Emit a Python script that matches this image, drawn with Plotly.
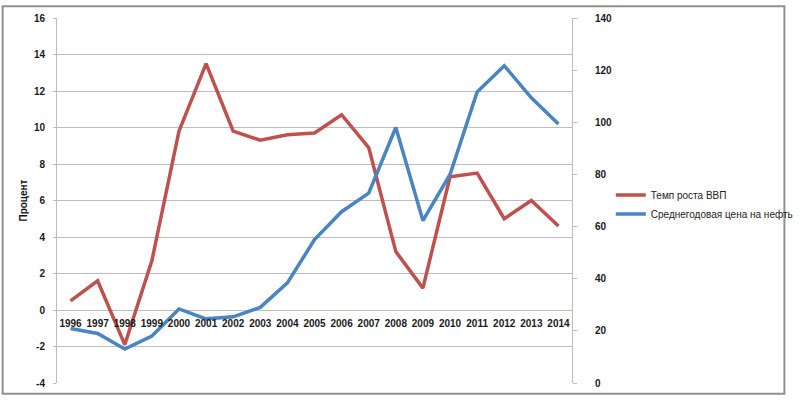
import plotly.graph_objects as go

years = [str(y) for y in range(1996, 2015)]
gdp_growth = [0.5, 1.6, -1.9, 2.7, 9.8, 13.5, 9.8, 9.3, 9.6, 9.7, 10.7, 8.9, 3.2, 1.2, 7.3, 7.5, 5.0, 6.0, 4.6]
oil_price = [20.9, 19.0, 13.0, 18.0, 28.4, 24.6, 25.4, 29.0, 38.4, 55.0, 65.7, 72.8, 98.0, 62.3, 80.0, 111.6, 121.7, 109.4, 99.3]
left_ticks = list(range(-4, 17, 2))
left_labels = [str(v) for v in left_ticks]
right_ticks = list(range(0, 141, 20))

RED = "#C0504D"
BLUE = "#4A84C1"
GRID = "#BDBDBD"
FONT = "Liberation Sans, Arial, sans-serif"

fig = go.Figure()
fig.add_trace(go.Scatter(x=years, y=gdp_growth, mode="lines", name="Темп роста ВВП",
                         line=dict(color=RED, width=3.5), yaxis="y"))
fig.add_trace(go.Scatter(x=years, y=oil_price, mode="lines", name="Среднегодовая цена на нефть",
                         line=dict(color=BLUE, width=3.5), yaxis="y2"))

L, R, T, B = 57, 588, 13, 388
W, H = 810, 401
pw, ph = R - L, B - T

tickfont = dict(size=10, color="#1a1a1a", family=FONT, weight="bold")

fig.update_layout(
    width=W, height=H,
    margin=dict(l=L, r=W - R, t=T, b=H - B),
    paper_bgcolor="white", plot_bgcolor="white",
    font=dict(family=FONT, size=10, color="#222"),
    showlegend=True,
    legend=dict(x=(628 - L) / pw, y=(B - 180) / ph, xanchor="left", yanchor="top",
                font=dict(size=10, color="#222"), bgcolor="rgba(0,0,0,0)",
                tracegroupgap=2, itemwidth=30),
    xaxis=dict(type="category", range=[-0.5, 18.5], anchor="free", position=0.2,
               showgrid=False, showline=False, ticks="", zeroline=False,
               tickfont=tickfont, tickangle=0, ticklabelstandoff=6),
    yaxis=dict(range=[-4, 16], tickvals=left_ticks, ticktext=left_labels,
               showgrid=True, gridcolor=GRID, gridwidth=1,
               zeroline=False, showline=True, linecolor=GRID, linewidth=1,
               ticks="outside", ticklen=3, tickcolor=GRID,
               tickfont=tickfont, ticklabelstandoff=6,
               title=dict(text="Процент", font=dict(size=10, color="#111", weight="bold"), standoff=4)),
    yaxis2=dict(range=[0, 140], tickvals=right_ticks, overlaying="y", side="right",
                showgrid=False, zeroline=False, showline=True, linecolor=GRID, linewidth=1,
                ticks="outside", ticklen=4, tickcolor=GRID,
                tickfont=tickfont, ticklabelstandoff=16),
)

fig.add_shape(type="rect", xref="paper", yref="paper",
              x0=(1 - L) / pw, x1=(807 - L) / pw, y0=(B - 399) / ph, y1=(B - 1) / ph,
              line=dict(color="#909090", width=2), fillcolor="rgba(0,0,0,0)", layer="below")

fig.write_html("out.html")
